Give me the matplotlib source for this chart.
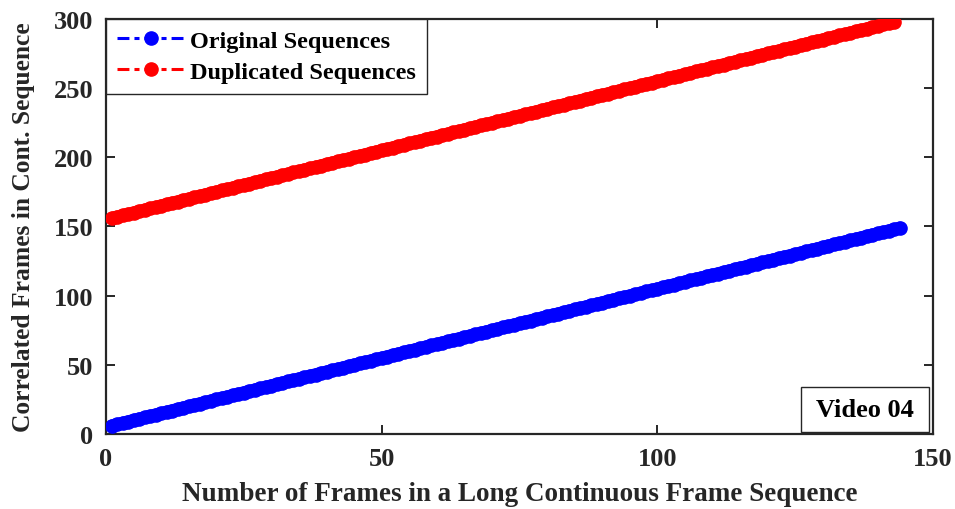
import numpy as np
import matplotlib.pyplot as plt
from matplotlib.patches import Rectangle

plt.rcParams['font.family'] = ['Liberation Serif', 'DejaVu Serif']
plt.rcParams['font.weight'] = 'bold'

# frame index in the long continuous sequence
orig_frames = np.arange(1, 145)
dup_frames = np.arange(1, 144)
# running count of correlated frames: originals start at 6, duplicates at 156
orig_counts = np.arange(6, 150)
dup_counts = np.arange(156, 299)

fig = plt.figure(figsize=(9.55, 5.10), dpi=100)
ax = fig.add_axes([0.111, 0.147, 0.866, 0.814])

# thick body under the markers so the run of points reads as one band
for fr, cnt, c in [(orig_frames, orig_counts, '#0000ff'),
                   (dup_frames, dup_counts, '#ff0000')]:
    ax.plot(fr, cnt, '-', color=c, lw=9, solid_capstyle='round', zorder=2)

dashdot = (0, (3.9, 1.65, 1.65, 1.65))
ax.plot(orig_frames, orig_counts, ls=dashdot, marker='o', color='#0000ff',
        lw=2.2, ms=9.5, label='Original Sequences', zorder=3)
ax.plot(dup_frames, dup_counts, ls=dashdot, marker='o', color='#ff0000',
        lw=2.2, ms=9.5, label='Duplicated Sequences', zorder=3)

ax.set_xlim(0, 150)
ax.set_ylim(0, 300)
ax.set_xticks([0, 50, 100, 150])
ax.set_yticks(range(0, 301, 50))
ax.tick_params(direction='in', length=6.5, width=1.4, top=True, right=True,
               labelsize=19, colors='#262626')
ax.tick_params(axis='x', pad=9)
ax.tick_params(axis='y', pad=9)
for sp in ax.spines.values():
    sp.set_linewidth(1.6)
    sp.set_color('#262626')

ax.set_xlabel('Number of Frames in a Long Continuous Frame Sequence',
              fontsize=19.5, fontweight='bold', color='#262626')
ax.set_ylabel('Correlated Frames in Cont. Sequence',
              fontsize=18.4, fontweight='bold', color='#262626')
ax.xaxis.set_label_coords(0.5, -0.113)
ax.yaxis.set_label_coords(-0.086, 0.5)

leg = ax.legend(loc='upper left', bbox_to_anchor=(0, 1), fontsize=17.5,
                fancybox=False, borderaxespad=0, handlelength=2.8,
                borderpad=0.45, labelspacing=0.36, handletextpad=0.2,
                numpoints=1)
leg.get_frame().set_edgecolor('#262626')
leg.get_frame().set_linewidth(1.0)
leg.get_frame().set_alpha(1)

# label box in the lower right corner
ax.add_patch(Rectangle((0.840, 0.005), 0.155, 0.108, transform=ax.transAxes,
                       fc='white', ec='#262626', lw=1.0, zorder=5))
ax.text(0.9175, 0.059, 'Video 04', transform=ax.transAxes, ha='center',
        va='center', fontsize=19, fontweight='bold', zorder=6)

fig.savefig('out.png', dpi=100)
